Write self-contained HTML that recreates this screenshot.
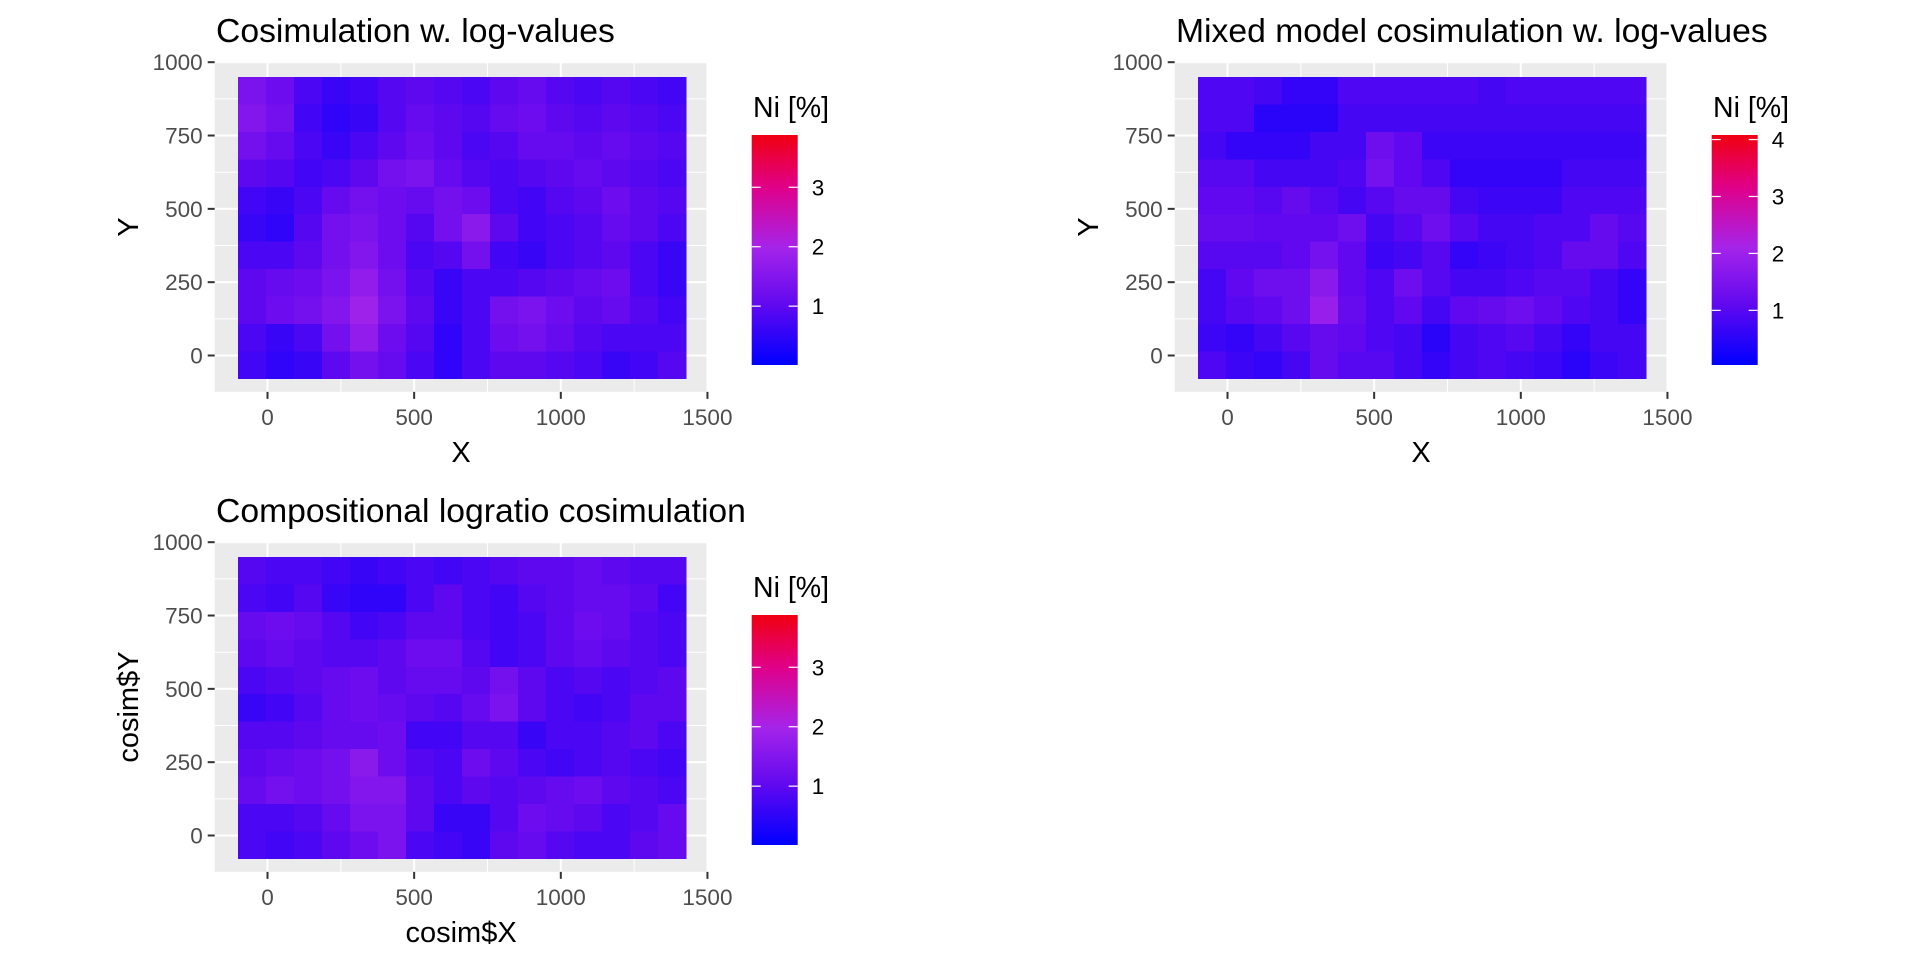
<!DOCTYPE html>
<html><head><meta charset="utf-8"><style>
html,body{margin:0;padding:0;background:#fff;}
svg{display:block;font-family:"Liberation Sans",Arial,sans-serif;}
</style></head><body>
<svg id="chart" width="1920" height="960" viewBox="0 0 1920 960" xmlns="http://www.w3.org/2000/svg">
<defs>
<linearGradient id="ramp" x1="0" y1="1" x2="0" y2="0">
<stop offset="0" stop-color="#0000ff"/><stop offset="0.26" stop-color="#6008f0"/><stop offset="0.51" stop-color="#a524ea"/><stop offset="0.77" stop-color="#e0008a"/><stop offset="1" stop-color="#f00010"/>
</linearGradient>
</defs>
</svg>
<script>
// ---- data ----
const xTicks = [0, 500, 1000, 1500];
const yTicks = [0, 250, 500, 750, 1000];
const xMinor = [250, 750, 1250];
const yMinor = [125, 375, 625, 875];
const rasterX = [-100, 1427];
const rasterY = [-79, 949];
const titles = ["Cosimulation w. log-values", "Mixed model cosimulation w. log-values", "Compositional logratio cosimulation"];
const xTitles = ["X", "X", "cosim$X"];
const yTitles = ["Y", "Y", "cosim$Y"];
const legendLimits1 = [0.01, 3.88];
const legendLimits2 = [0.04, 4.08];
const legendLimits3 = [0.01, 3.88];
const legendTicks1 = [1, 2, 3];
const legendTicks2 = [1, 2, 3, 4];
const legendTicks3 = [1, 2, 3];
const grid1 = [
[1.4,1.2,0.8,0.6,0.7,0.9,1.0,0.9,0.8,1.0,1.1,0.9,0.8,0.9,0.8,0.7],
[1.5,1.3,0.7,0.5,0.6,0.9,1.1,1.0,0.9,1.1,1.2,1.0,0.9,1.0,0.9,0.8],
[1.3,1.1,0.8,0.6,0.8,1.0,1.2,1.0,0.8,0.9,1.1,1.1,1.0,1.1,1.0,0.9],
[1.0,0.9,0.7,0.8,1.0,1.3,1.4,1.1,0.9,0.8,0.9,1.0,1.1,1.0,0.9,0.8],
[0.7,0.6,0.8,1.1,1.3,1.2,1.1,1.3,1.2,0.8,0.7,0.9,1.0,1.2,1.0,0.9],
[0.6,0.5,0.9,1.3,1.4,1.2,0.9,1.3,1.6,1.0,0.7,0.8,0.9,1.1,1.0,0.8],
[0.8,0.8,1.0,1.3,1.5,1.2,0.8,0.9,1.3,0.7,0.6,0.8,0.9,1.0,0.8,0.6],
[1.0,1.1,1.2,1.4,1.7,1.3,0.9,0.6,0.8,0.8,0.9,1.0,1.1,1.2,0.8,0.6],
[1.0,1.2,1.3,1.5,1.9,1.4,1.0,0.6,0.8,1.3,1.4,1.2,1.0,1.1,0.9,0.7],
[0.8,0.6,0.8,1.3,1.7,1.2,0.9,0.5,0.8,1.2,1.3,1.1,0.9,0.8,0.8,0.8],
[0.7,0.5,0.6,1.0,1.3,1.1,0.8,0.5,0.8,1.0,1.0,0.9,0.8,0.6,0.7,0.9]];
const grid2 = [
[0.9,0.9,0.8,0.6,0.6,0.9,0.9,0.9,0.9,0.9,0.8,0.9,0.9,0.9,0.9,0.9],
[0.9,0.9,0.5,0.5,0.5,0.8,0.8,0.8,0.8,0.8,0.8,0.8,0.8,0.8,0.8,0.8],
[0.8,0.6,0.6,0.6,0.8,0.8,1.3,1.1,0.7,0.7,0.7,0.7,0.7,0.7,0.7,0.7],
[1.0,1.0,0.8,0.8,0.8,0.9,1.4,1.1,0.9,0.6,0.6,0.6,0.6,0.8,0.8,0.8],
[1.1,1.1,1.0,1.2,1.0,0.8,1.0,1.2,1.2,0.8,0.7,0.7,0.7,0.9,0.9,0.9],
[1.2,1.2,1.1,1.1,1.1,1.3,0.8,1.0,1.3,1.0,0.8,0.8,0.9,0.9,1.2,1.0],
[1.0,1.0,1.0,1.1,1.4,1.1,0.7,0.8,1.0,0.6,0.7,0.8,0.9,1.2,1.2,0.9],
[0.8,1.1,1.3,1.3,1.7,1.1,0.9,1.3,1.0,0.8,0.8,0.9,1.0,1.0,0.8,0.6],
[0.8,1.0,1.1,1.3,1.9,1.2,0.9,1.1,0.8,1.1,1.2,1.3,1.1,0.9,0.8,0.6],
[0.7,0.6,0.8,1.0,1.2,1.1,0.9,0.8,0.5,0.8,0.9,1.0,0.8,0.6,0.8,0.8],
[0.9,0.7,0.6,0.8,1.2,1.0,1.0,0.8,0.6,0.8,0.9,0.8,0.7,0.5,0.7,0.8]];
const grid3 = [
[0.9,0.8,0.8,0.7,0.6,0.7,0.8,0.7,0.8,0.9,1.0,1.0,1.1,1.0,0.9,0.9],
[0.8,0.7,0.9,0.6,0.5,0.5,0.8,1.0,0.8,0.7,0.9,1.0,1.1,1.1,1.0,0.7],
[1.1,1.2,1.1,0.9,0.7,0.8,1.0,1.0,0.8,0.7,0.8,1.0,1.2,1.1,0.9,0.8],
[1.0,1.1,1.0,0.9,0.9,1.0,1.2,1.2,0.9,0.7,0.8,1.0,1.1,1.0,0.9,0.8],
[0.8,0.9,1.0,1.1,1.2,1.0,1.1,1.1,1.0,1.3,1.0,0.8,0.9,0.8,0.9,1.0],
[0.6,0.7,0.9,1.1,1.2,1.1,1.0,0.9,1.1,1.4,1.0,0.8,0.7,0.8,1.0,1.0],
[0.9,0.9,1.0,1.1,1.1,1.2,0.7,0.7,0.9,0.9,0.6,0.8,0.8,0.9,1.0,0.8],
[1.0,1.1,1.2,1.3,1.6,1.2,0.9,0.8,1.2,1.0,0.8,0.7,0.8,0.9,0.8,0.7],
[1.1,1.3,1.2,1.3,1.5,1.5,1.0,0.8,1.0,0.9,1.0,1.1,1.2,1.0,0.9,0.8],
[0.8,0.8,0.9,1.1,1.4,1.4,1.0,0.6,0.6,0.9,1.2,1.1,1.0,0.8,0.9,1.1],
[0.8,0.7,0.8,1.0,1.2,1.4,0.8,0.7,0.6,1.0,1.1,0.9,0.8,0.8,1.0,1.1]];

// ---- rendering ----
const NS = "http://www.w3.org/2000/svg";
const svg = document.getElementById('chart');
const K = 0.2933;
const stops = [[0,[0,0,255]],[0.26,[96,8,240]],[0.51,[165,36,234]],[0.77,[224,0,138]],[1,[240,0,16]]];
function colorAt(t){
  t = Math.max(0, Math.min(1, t));
  for (let i = 1; i < stops.length; i++) {
    if (t <= stops[i][0]) {
      const a = stops[i-1], b = stops[i], f = (t - a[0]) / (b[0] - a[0]);
      const c = a[1].map((v, j) => Math.round(v + (b[1][j] - v) * f));
      return 'rgb(' + c.join(',') + ')';
    }
  }
  return 'rgb(240,0,16)';
}
function mk(tag, attrs, parent){
  const e = document.createElementNS(NS, tag);
  for (const k in attrs) e.setAttribute(k, attrs[k]);
  (parent || svg).appendChild(e);
  return e;
}
function panel(idx, ox, oy, grid, lim, lticks){
  const sx = x => ox + 267.5 + x * K;
  const sy = y => oy + 355.5 - y * K;
  const g = mk('g', {});
  
  
  const bg = mk('rect', {x: sx(-180), y: sy(1000), width: sx(1500) - sx(-180), height: sy(-124) - sy(1000), fill: '#EBEBEB'}, g);
  
  
  xMinor.forEach(v => { const l = mk('line', {x1: sx(v), x2: sx(v), y1: sy(1000), y2: sy(-124), stroke: '#fff', 'stroke-width': 1}, g);
      });
  yMinor.forEach(v => { const l = mk('line', {x1: sx(-180), x2: sx(1500), y1: sy(v), y2: sy(v), stroke: '#fff', 'stroke-width': 1}, g);
      });
  xTicks.forEach(v => { const l = mk('line', {x1: sx(v), x2: sx(v), y1: sy(1000), y2: sy(-124), stroke: '#fff', 'stroke-width': 2}, g);
      });
  yTicks.forEach(v => { const l = mk('line', {x1: sx(-180), x2: sx(1500), y1: sy(v), y2: sy(v), stroke: '#fff', 'stroke-width': 2}, g);
      });
  const rows = grid.length, cols = grid[0].length;
  const cw = (rasterX[1] - rasterX[0]) / cols, ch = (rasterY[1] - rasterY[0]) / rows;
  const hm = mk('g', {'shape-rendering': 'crispEdges'}, g);
  
  
  for (let r = 0; r < rows; r++) for (let c = 0; c < cols; c++) {
    const x0 = rasterX[0] + c * cw, y1 = rasterY[1] - r * ch;
    const cell = mk('rect', {x: sx(x0), y: sy(y1), width: sx(x0 + cw) - sx(x0) + 0.5, height: sy(y1 - ch) - sy(y1) + 0.5,
      fill: colorAt((grid[r][c] - lim[0]) / (lim[1] - lim[0]))}, hm);
    
    
  }
  xTicks.forEach(v => {
    const t = mk('line', {x1: sx(v), x2: sx(v), y1: sy(-124), y2: sy(-124) + 7, stroke: '#333', 'stroke-width': 2}, g);
     
    const tx = mk('text', {x: sx(v), y: sy(-124) + 33, 'text-anchor': 'middle', 'font-size': 22.5, fill: '#4D4D4D'}, g);
    tx.textContent = v;
     
  });
  yTicks.forEach(v => {
    const t = mk('line', {x1: sx(-180) - 7, x2: sx(-180), y1: sy(v), y2: sy(v), stroke: '#333', 'stroke-width': 2}, g);
     
    const tx = mk('text', {x: sx(-180) - 12, y: sy(v) + 8, 'text-anchor': 'end', 'font-size': 22.5, fill: '#4D4D4D'}, g);
    tx.textContent = v;
     
  });
  const cx = (sx(-180) + sx(1500)) / 2, cy = (sy(1000) + sy(-124)) / 2;
  const xt = mk('text', {x: cx, y: sy(-124) + 70, 'text-anchor': 'middle', 'font-size': 29, fill: '#000'}, g);
  xt.textContent = xTitles[idx];
   
  const yt = mk('text', {x: ox + 138, y: cy, 'text-anchor': 'middle', 'font-size': 29, fill: '#000', transform: 'rotate(-90 ' + (ox + 138) + ' ' + cy + ')'}, g);
  yt.textContent = yTitles[idx];
   
  const tt = mk('text', {x: ox + 216, y: oy + 42, 'font-size': 33.7, fill: '#000'}, g);
  tt.textContent = titles[idx];
   
  const lg = mk('g', {}, g);
  
  
  const lt = mk('text', {x: ox + 753, y: oy + 117, 'font-size': 28.5, fill: '#000'}, lg);
  lt.textContent = 'Ni [%]';
   
  const bx = ox + 751.7, bw = 46, by0 = oy + 365, by1 = oy + 135;
  const bar = mk('rect', {x: bx, y: by1, width: bw, height: by0 - by1, fill: 'url(#ramp)'}, lg);
   
  const ly = v => by0 - (v - lim[0]) / (lim[1] - lim[0]) * (by0 - by1);
  lticks.forEach(v => {
    const a = mk('line', {x1: bx, x2: bx + 9, y1: ly(v), y2: ly(v), stroke: '#fff', 'stroke-width': 1.2}, lg);
     
    const b = mk('line', {x1: bx + bw - 9, x2: bx + bw, y1: ly(v), y2: ly(v), stroke: '#fff', 'stroke-width': 1.2}, lg);
     
    const t = mk('text', {x: bx + 60, y: ly(v) + 8, 'font-size': 22.5, fill: '#000'}, lg);
    t.textContent = v;
     
  });
}
panel(0, 0, 0, grid1, legendLimits1, legendTicks1);
panel(1, 960, 0, grid2, legendLimits2, legendTicks2);
panel(2, 0, 480, grid3, legendLimits3, legendTicks3);
</script>
</body></html>
